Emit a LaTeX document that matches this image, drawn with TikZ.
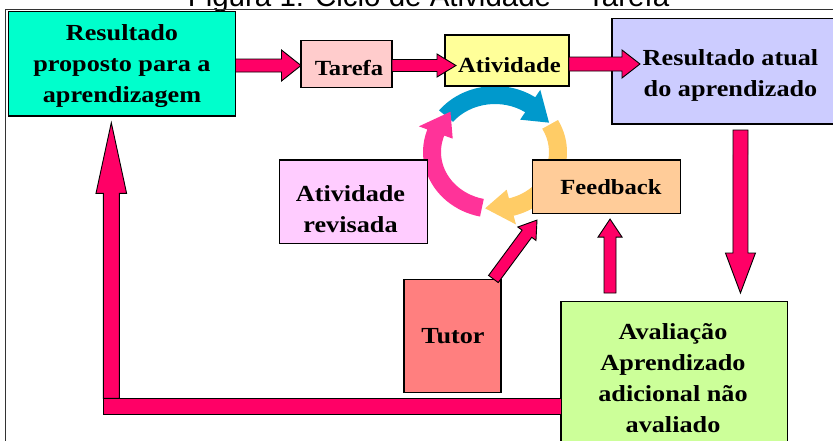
\documentclass[tikz,border=0pt]{standalone}
\usepackage{fontspec}
\setmainfont{Liberation Serif}[FakeStretch=1.14]
\newfontfamily\titlefont{Liberation Sans}
\usetikzlibrary{calc}
\definecolor{cGreen}{HTML}{00FFCC}
\definecolor{cTarefa}{HTML}{FFCCCC}
\definecolor{cAtiv}{HTML}{FFFF99}
\definecolor{cResAt}{HTML}{CCCCFF}
\definecolor{cRevis}{HTML}{FFCCFF}
\definecolor{cFeed}{HTML}{FFCC99}
\definecolor{cTutor}{HTML}{FF7F7F}
\definecolor{cAval}{HTML}{CCFF99}
\definecolor{cArrow}{HTML}{FF0066}
\definecolor{cBlue}{HTML}{0099CC}
\definecolor{cYellow}{HTML}{FFCC66}
\definecolor{cPink}{HTML}{FF3399}
\tikzset{
  boxst/.style={draw=black, line width=1.2pt, inner sep=0pt, outer sep=0pt},
  txt/.style={font=\bfseries\fontsize{23}{31}\selectfont, align=center, inner sep=0pt},
  txts/.style={font=\bfseries\fontsize{21.6}{31}\selectfont, align=center, inner sep=0pt},
  fatst/.style={fill=cArrow, draw=black, line width=0.9pt, line join=miter},
  framest/.style={draw=black!80, line width=1.4pt},
}
\newcommand{\fatarrow}[5]{%
  \path ($(#2)!#5!(#1)$) coordinate (fah);
  \filldraw[fatst] ($(#1)!#3!90:(#2)$) -- ($(fah)!#3!90:(#2)$) -- ($(fah)!#4!90:(#2)$) -- (#2)
     -- ($(fah)!#4!-90:(#2)$) -- ($(fah)!#3!-90:(#2)$) -- ($(#1)!#3!-90:(#2)$) -- cycle;
}
\newcommand{\cycarrow}[4]{% colour, start angle, head base angle, tip angle
  \fill[#1] (#2:72 and 66) arc[start angle=#2, end angle=#3, x radius=72, y radius=66]
     -- (#3:81 and 75) -- (#4:63 and 57) -- (#3:45 and 39) -- (#3:54 and 48)
     arc[start angle=#3, end angle=#2, x radius=54, y radius=48] -- cycle;
}
\begin{document}
\begin{tikzpicture}[x=1pt,y=-1pt]
\useasboundingbox (0,0) rectangle (833,440);
\clip (0,0) rectangle (833,440);
% title (cut off at the top)
\node[font=\titlefont\fontsize{29.5}{34}\selectfont, anchor=base, inner sep=0pt] (title) at (428.5,6) {Figura 1: Ciclo de Atividade -- Tarefa};
% frame
\draw[framest] (5.5,450) -- (5.5,9.5) -- (845,9.5);
% cycle arrows
\begin{scope}[shift={(495,152)}, yscale=-1]
  \cycarrow{cYellow}{29}{-75}{-99}
  \cycarrow{cBlue}{141}{56}{31}
  \cycarrow{cPink}{258}{160}{135}
\end{scope}
% boxes
\node[boxst, fill=cGreen, minimum width=227pt, minimum height=104.5pt] (green) at (122,63.75) {};
\node[boxst, fill=cTarefa, minimum width=91pt, minimum height=46.6pt] (tarefa) at (346.5,64) {};
\node[boxst, fill=cAtiv, minimum width=124pt, minimum height=51pt] (atividade) at (507,60.5) {};
\node[boxst, fill=cResAt, minimum width=238pt, minimum height=105.5pt] (resatual) at (731,71.25) {};
\node[boxst, fill=cRevis, minimum width=148pt, minimum height=83.3pt] (revisada) at (353.3,201.7) {};
\node[boxst, fill=cFeed, minimum width=148pt, minimum height=53.3pt] (feedback) at (606.7,186.7) {};
\node[boxst, fill=cTutor, minimum width=97pt, minimum height=113pt] (tutor) at (452.4,335.8) {};
\node[boxst, fill=cAval, minimum width=226.3pt, minimum height=158.3pt] (aval) at (674.15,380.85) {};
% texts
\node[txt] (tgreen) at (122,65.5) {\strut Resultado\\\strut proposto para a\\\strut aprendizagem};
\node[txts] (ttarefa) at (349,68.8) {\strut Tarefa};
\node[txts] (tativ) at (509.5,66.5) {\strut Atividade};
\node[txt] (tresat) at (730.5,74.3) {\strut Resultado atual\\\strut do aprendizado};
\node[txt] (trevis) at (350.5,211) {\strut Atividade\\\strut revisada};
\node[txts] (tfeed) at (611,187.8) {\strut Feedback};
\node[txt] (ttutor) at (453,337) {\strut Tutor};
\node[txt] (taval) at (673,379.3) {\strut Avalia\c{c}\~ao\\\strut Aprendizado\\\strut adicional n\~ao\\\strut avaliado};
% connector end points
\coordinate (a1s) at ($(green.east)+(0,1.75)$);
\coordinate (a1e) at ($(tarefa.west)+(0,1.5)$);
\coordinate (a2s) at ($(tarefa.east)+(0,1.5)$);
\coordinate (a2e) at ($(atividade.west)+(11,5)$);
\coordinate (a3s) at ($(atividade.east)+(0,3.5)$);
\coordinate (a3e) at ($(resatual.west)+(28,-7.25)$);
\coordinate (a4s) at ($(resatual.south)+(9.5,6)$);
\coordinate (a4e) at ($(aval.north)+(66.3,-8.7)$);
\coordinate (a5s) at ($(aval.north)+(-64.15,-8.7)$);
\coordinate (a5e) at ($(feedback.south)+(3.3,5.7)$);
\coordinate (a6s) at ($(tutor.north)+(41,-0.3)$);
\coordinate (a6e) at ($(feedback.south west)+(4.3,6.7)$);
\coordinate (a7c) at ($(green.south)+(-10.7,282.3)$);
\coordinate (a7e) at ($(green.south)+(-10.7,6.7)$);
% block arrows
\fatarrow{a1s}{a1e}{6.5pt}{15.5pt}{19.5pt}
\fatarrow{a2s}{a2e}{6pt}{11.5pt}{19pt}
\fatarrow{a3s}{a3e}{7pt}{14pt}{18pt}
\fatarrow{a4s}{a4e}{7.5pt}{15pt}{40pt}
\fatarrow{a5s}{a5e}{6pt}{12pt}{18pt}
\fatarrow{a6s}{a6e}{6pt}{11.3pt}{17pt}
\fatarrow{a7c}{a7e}{8pt}{15.3pt}{70.6pt}
\filldraw[fatst] ($(a7c)+(-8,0)$) rectangle ($(aval.west |- a7c)+(0,15.7)$);
\end{tikzpicture}
\end{document}
